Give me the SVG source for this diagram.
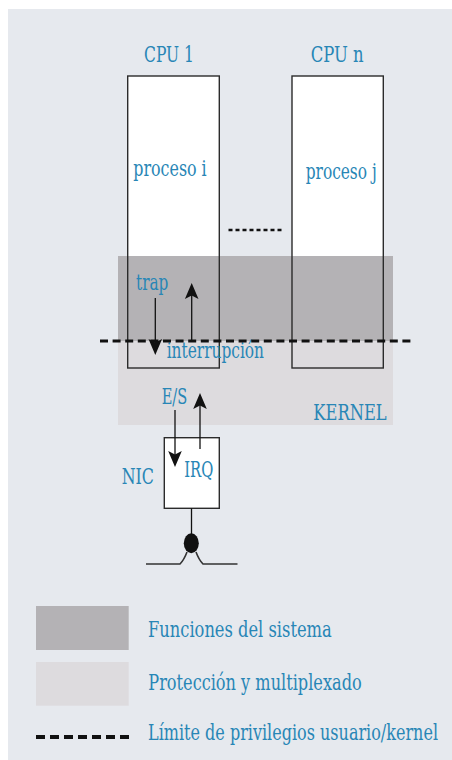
<svg xmlns="http://www.w3.org/2000/svg" width="452" height="760" viewBox="0 0 452 760">
<defs>
<style>
.t{font-family:"DejaVu Serif","Liberation Serif",serif;fill:#2886b6;font-size:21.5px}
.lg{font-size:22px}
.box{fill:none;stroke:#2b2b2b;stroke-width:1.4}
.ln{stroke:#111;stroke-width:1.3;fill:none}
.dark{fill:#b4b2b5}
.light{fill:#dddbde}
</style>
<path id="ahd" d="M0,0 L-6.8,-16 L0,-12.5 L6.8,-16 Z" fill="#111"/>
</defs>
<rect x="0" y="0" width="452" height="760" fill="#ffffff"/>
<rect x="8" y="9" width="444" height="751" fill="#e6e9ee"/>

<rect x="127.7" y="76" width="91.6" height="292" fill="#ffffff"/>
<rect x="292" y="76" width="91.3" height="292" fill="#ffffff"/>

<g id="kernel-bands">
<rect class="dark" x="118" y="256" width="275" height="85"/>
<rect class="light" x="118" y="341" width="275" height="84"/>
</g>

<g id="cpu1">
<rect class="box" x="127.7" y="76" width="91.6" height="292"/>
<text class="t" x="144" y="62" textLength="50" lengthAdjust="spacingAndGlyphs">CPU 1</text>
<text class="t" x="133.3" y="176" textLength="73.4" lengthAdjust="spacingAndGlyphs">proceso i</text>
</g>
<g id="cpun">
<rect class="box" x="292" y="76" width="91.3" height="292"/>
<text class="t" x="310.7" y="62" textLength="53" lengthAdjust="spacingAndGlyphs">CPU n</text>
<text class="t" x="305.7" y="178.5" textLength="71" lengthAdjust="spacingAndGlyphs">proceso j</text>
</g>

<g id="nic">
<rect x="164.3" y="437.7" width="55" height="70.6" fill="#ffffff" stroke="#2b2b2b" stroke-width="1.4"/>
<text class="t" x="121.7" y="484" textLength="32.3" lengthAdjust="spacingAndGlyphs">NIC</text>
<text class="t" x="184.3" y="477.3" textLength="29" lengthAdjust="spacingAndGlyphs">IRQ</text>
</g>

<g id="labels">
<text class="t" x="136" y="290" textLength="32.3" lengthAdjust="spacingAndGlyphs">trap</text>
<text class="t" x="166.7" y="358" textLength="97.3" lengthAdjust="spacingAndGlyphs">interrupción</text>
<text class="t" x="161.7" y="404" textLength="25.6" lengthAdjust="spacingAndGlyphs">E/S</text>
<text class="t" x="313.3" y="420" textLength="73.4" lengthAdjust="spacingAndGlyphs">KERNEL</text>
</g>

<g id="connectors">
<line class="ln" x1="155.3" y1="298" x2="155.3" y2="344"/>
<use href="#ahd" transform="translate(155.3,355)"/>
<line class="ln" x1="191.7" y1="340" x2="191.7" y2="294"/>
<use href="#ahd" transform="translate(191.7,283) rotate(180)"/>
<line class="ln" x1="175" y1="410" x2="175" y2="456"/>
<use href="#ahd" transform="translate(175,467)"/>
<line class="ln" x1="200" y1="449" x2="200" y2="404"/>
<use href="#ahd" transform="translate(200,393) rotate(180)"/>
<line x1="228.5" y1="230" x2="283.5" y2="230" stroke="#111" stroke-width="2.5" stroke-dasharray="4 3"/>
<line x1="100" y1="341" x2="412" y2="341" stroke="#111" stroke-width="3" stroke-dasharray="8 4.6"/>
<line class="ln" x1="191.5" y1="508.3" x2="191.5" y2="534"/>
<ellipse cx="191.3" cy="543.3" rx="7.5" ry="10" fill="#111"/>
<path d="M146,564 L180,564 Q184,560 187,552 M196,552 Q199,560 203,564 L237.5,564" fill="none" stroke="#333" stroke-width="1.6"/>
</g>

<g id="legend">
<rect class="dark" x="36" y="606" width="92.7" height="44"/>
<rect class="light" x="36" y="662" width="92.7" height="43.7"/>
<line x1="36" y1="737" x2="129" y2="737" stroke="#111" stroke-width="4" stroke-dasharray="9 5"/>
<text class="t lg" x="148" y="636.7" textLength="183.7" lengthAdjust="spacingAndGlyphs">Funciones del sistema</text>
<text class="t lg" x="148.3" y="690" textLength="213.4" lengthAdjust="spacingAndGlyphs">Protección y multiplexado</text>
<text class="t lg" x="148" y="740" textLength="290" lengthAdjust="spacingAndGlyphs">Límite de privilegios usuario/kernel</text>
</g>
</svg>
